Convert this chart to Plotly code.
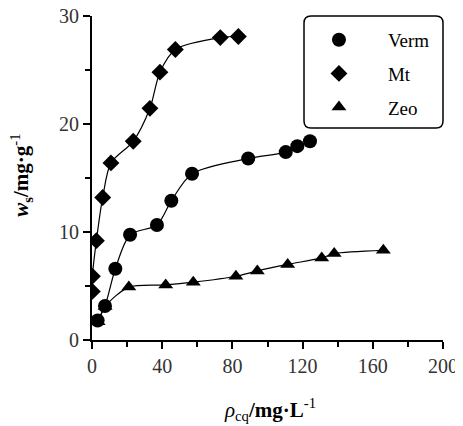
import plotly.graph_objects as go

verm_x = [3.2, 7.4, 13.3, 21.7, 37, 45.2, 57, 89, 110.4, 117, 124.2]
verm_y = [1.8, 3.15, 6.6, 9.75, 10.65, 12.9, 15.4, 16.8, 17.4, 17.95, 18.4]

mt_x = [0.2, 0.2, 2.5, 6.1, 10.8, 23.5, 33, 38.7, 47.5, 73.1, 83.4]
mt_y = [4.5, 5.9, 9.2, 13.2, 16.4, 18.4, 21.45, 24.8, 26.9, 28.0, 28.1]

zeo_x = [3.5, 7.5, 21, 42, 57.7, 82, 94.2, 111.5, 130.9, 138, 166]
zeo_y = [1.7, 3.1, 4.9, 5.1, 5.35, 5.9, 6.4, 7.0, 7.6, 8.0, 8.3]

names = ["Verm", "Mt", "Zeo"]
symbols = ["circle", "diamond", "triangle-up"]
sizes = [14, 13, 13]

x_title = "<i>ρ</i><sub>cq</sub><b>/mg·L</b><sup>-1</sup>"
y_title = "<b><i>w</i><sub>s</sub>/mg·g</b><sup>-1</sup>"

FONT = "Liberation Serif"

fig = go.Figure()
series = list(zip(names, [verm_x, mt_x, zeo_x], [verm_y, mt_y, zeo_y], symbols, sizes))
for nm, xs, ys, sym, sz in series:
    fig.add_trace(go.Scatter(
        x=xs, y=ys, name=nm, mode="lines", showlegend=False,
        line=dict(color="black", width=1.2, shape="spline", smoothing=0.8),
    ))
for nm, xs, ys, sym, sz in series:
    fig.add_trace(go.Scatter(
        x=xs, y=ys, name=nm, mode="markers", legendgroup=nm,
        marker=dict(symbol=sym, size=sz, color="black"),
    ))

axis_common = dict(
    showline=True, linecolor="black", linewidth=2,
    ticks="outside", tickwidth=2, ticklen=7, tickcolor="black",
    showgrid=False, zeroline=False, automargin=False,
    ticklabeloverflow="allow",
    tickfont=dict(family=FONT, size=20, color="#333"),
)

fig.update_xaxes(
    range=[0, 200], tickvals=[0, 40, 80, 120, 160, 200],
    minor=dict(tickvals=[20, 60, 100, 140, 180], ticklen=5, tickwidth=2, tickcolor="black", ticks="outside"),
    **axis_common,
)
fig.update_yaxes(
    range=[0, 30], tickvals=[0, 10, 20, 30],
    minor=dict(tickvals=[5, 15, 25], ticklen=5, tickwidth=2, tickcolor="black", ticks="outside"),
    **axis_common,
)

fig.add_annotation(text=x_title, xref="paper", yref="paper", x=0.507, y=-0.216,
                   showarrow=False, xanchor="center", yanchor="middle",
                   font=dict(family=FONT, size=21, color="black"))
fig.add_annotation(text=y_title, xref="paper", yref="paper", x=-0.203, y=0.509,
                   showarrow=False, xanchor="center", yanchor="middle", textangle=-90,
                   font=dict(family=FONT, size=21, color="black"))

fig.update_layout(
    width=455, height=418,
    margin=dict(l=84, r=20, t=8, b=86),
    plot_bgcolor="white", paper_bgcolor="white",
    showlegend=True,
    legend=dict(
        x=0.564, xanchor="left", y=0.985, yanchor="top",
        font=dict(family=FONT, size=19, color="black"),
        bgcolor="rgba(0,0,0,0)", borderwidth=0,
        itemsizing="trace", itemwidth=88,
        tracegroupgap=6,
    ),
)

# rounded legend frame (paper coords)
x0, x1, y0, y1, r = 0.604, 1.0, 0.654, 1.0, 0.02
ry = r * 351 / 324
path = (f"M {x0+r},{y1} L {x1-r},{y1} Q {x1},{y1} {x1},{y1-ry} "
        f"L {x1},{y0+ry} Q {x1},{y0} {x1-r},{y0} L {x0+r},{y0} "
        f"Q {x0},{y0} {x0},{y0+ry} L {x0},{y1-ry} Q {x0},{y1} {x0+r},{y1} Z")
fig.add_shape(type="path", path=path, xref="paper", yref="paper",
              line=dict(color="black", width=1.5))

fig.write_html("out.html")
